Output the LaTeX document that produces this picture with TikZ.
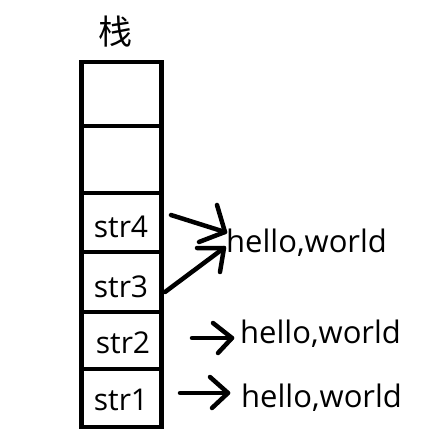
\documentclass[tikz,border=0pt]{standalone}
\usepackage{fontspec}
\setmainfont{Open Sans}
\newfontfamily\cjk{Noto Sans CJK SC}
\begin{document}
\begin{tikzpicture}[x=1pt,y=-1pt,
  stroke/.style={line width=4.5pt,line cap=round,line join=round},
  frame/.style={line width=4.5pt,line cap=rect,line join=miter},
  cell/.style={rectangle,inner sep=0pt,minimum width=80pt},
  lbl/.style={inner sep=0pt,anchor=base,font=\fontsize{30}{32}\selectfont},
  val/.style={inner sep=0pt,anchor=base west,font=\fontsize{31}{34}\selectfont}]
\useasboundingbox (0,0) rectangle (433,444);

% stack title
\node[inner sep=0pt,font=\cjk\fontsize{34}{36}\selectfont] (title) at (115,32) {栈};

% stack cells, top to bottom
\node[cell,minimum height=64pt] (c6) at (121.5,94) {};
\node[cell,minimum height=67pt] (c5) at (121.5,159.5) {};
\node[cell,minimum height=59pt] (c4) at (121.5,222.5) {};
\node[cell,minimum height=60pt] (c3) at (121.5,282) {};
\node[cell,minimum height=57pt] (c2) at (121.5,340.5) {};
\node[cell,minimum height=58pt] (c1) at (121.5,398) {};

% outline and dividers of the stack
\draw[frame] (c6.north west) rectangle (c1.south east);
\foreach \c in {c5,c4,c3,c2,c1}
  \draw[frame] (\c.north west) -- (\c.north east);

% cell labels
\node[lbl] (l4) at (121,237) {str4};
\node[lbl] (l3) at (121,297) {str3};
\node[lbl] (l2) at (123,353) {str2};
\node[lbl] (l1) at (121,410) {str1};

% string values
\node[val] (v1) at (226,252) {hello,world};
\node[val] (v2) at (240,343) {hello,world};
\node[val] (v3) at (241,407) {hello,world};

% arrow geometry
\coordinate (s4) at (171,215); \coordinate (t4) at (225,232);
\coordinate (p4) at (217,205); \coordinate (q4) at (199,242);
\coordinate (s3) at (165,292); \coordinate (t3) at (224,248);
\coordinate (p3) at (197,248); \coordinate (q3) at (220,272);
\coordinate (s2) at (192,338); \coordinate (t2) at (232,338);
\coordinate (p2) at (213,323); \coordinate (q2) at (218,353);
\coordinate (s1) at (180,393); \coordinate (t1) at (228,393);
\coordinate (p1) at (210,377); \coordinate (q1) at (212,408);

% arrows: shaft plus two barbs
\draw[stroke] (s4) -- (t4); \draw[stroke] (p4) -- (t4) -- (q4);
\draw[stroke] (s3) -- (t3); \draw[stroke] (p3) -- (t3) -- (q3);
\draw[stroke] (s2) -- (t2); \draw[stroke] (p2) -- (t2) -- (q2);
\draw[stroke] (s1) -- (t1); \draw[stroke] (p1) -- (t1) -- (q1);
\end{tikzpicture}
\end{document}
